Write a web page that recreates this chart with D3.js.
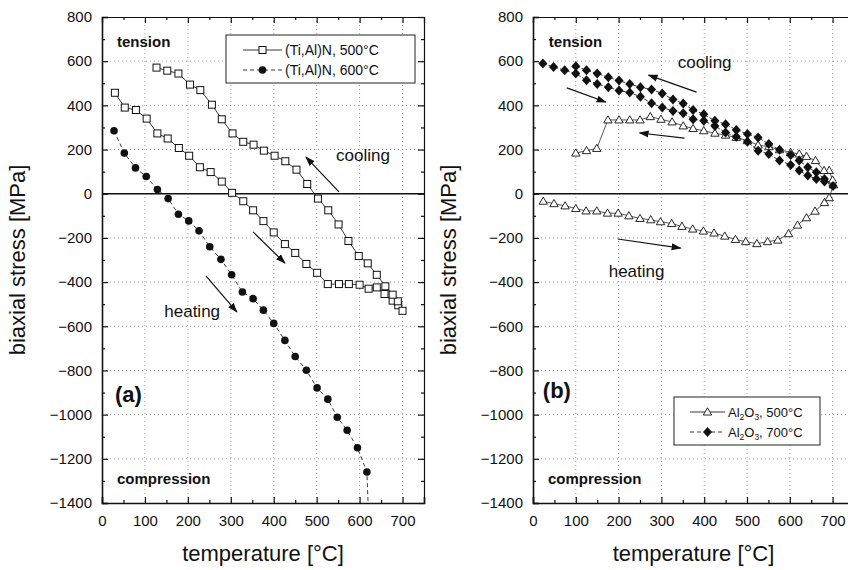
<!DOCTYPE html>
<html><head><meta charset="utf-8">
<script src="https://cdn.jsdelivr.net/npm/d3@7"></script>
<style>
body{margin:0;background:#fff;}
svg{font-family:"Liberation Sans",Arial,sans-serif;}
</style></head>
<body><svg id="c" width="848" height="570"></svg>
<script>
// ---------- data ----------
const xTicks = [0,100,200,300,400,500,600,700];
const yTicks = [800,600,400,200,0,-200,-400,-600,-800,-1000,-1200,-1400];

// (Ti,Al)N 500°C : heating then cooling
const tialn500T = [30,53,79,104,129,153,179,203,228,253,279,303,329,352,376,400,426,450,476,501,526,552,575,600,621,640,658,677,690,700,
  689,677,660,640,619,598,574,551,527,503,478,453,427,402,377,353,329,304,279,256,229,205,178,152,127];
const tialn500S = [457,390,379,340,273,250,207,172,120,98,55,4,-34,-75,-124,-175,-228,-268,-318,-358,-409,-409,-409,-412,-430,-424,-454,-484,-505,-530,
  -487,-457,-419,-367,-315,-282,-214,-139,-75,-22,44,109,147,172,195,222,235,273,337,403,469,494,544,557,571];

// (Ti,Al)N 600°C : heating (last value runs out of the frame)
const tialn600T = [28,52,78,103,129,154,178,202,226,251,277,302,327,352,376,400,426,450,476,501,526,548,571,595,617,622];
const tialn600S = [285,184,117,78,19,-22,-93,-123,-168,-240,-297,-367,-445,-475,-527,-587,-664,-737,-799,-879,-930,-1012,-1071,-1150,-1260,-1520];

// Al2O3 500°C : heating then cooling
const al500T = [24,49,75,100,124,149,174,199,224,250,275,298,324,348,373,398,423,448,473,497,523,548,572,597,618,639,659,681,692,702,
  700,692,680,660,639,622,602,576,551,526,501,475,450,425,399,374,351,325,299,274,250,226,201,175,149,125,100];
const al500S = [-34,-45,-55,-67,-78,-78,-88,-88,-100,-112,-118,-127,-135,-148,-160,-169,-178,-192,-207,-217,-226,-217,-210,-181,-142,-109,-79,-40,-18,40,
  62,105,105,150,169,180,187,199,213,220,240,255,265,274,285,295,307,325,337,349,334,334,334,334,205,195,184];

// Al2O3 700°C : heating then cooling
const al700T = [23,48,74,100,125,150,176,201,226,251,277,302,327,351,374,399,425,450,475,501,526,551,576,602,622,642,662,681,701,
  681,662,642,622,602,576,551,526,501,475,450,425,399,374,351,327,302,277,251,226,201,176,150,125,100];
const al700S = [589,574,559,544,514,497,482,467,458,439,410,390,375,364,337,330,307,277,258,235,195,180,150,130,105,82,67,55,35,
  67,97,120,150,175,199,225,255,270,289,315,330,360,379,408,427,454,472,482,497,512,527,544,559,577];

// annotations (data coordinates)
const arrowsA = [[552,8,475,166],[352,-173,426,-314],[242,-372,314,-535]];
const arrowsB = [[382,460,270,537],[79,479,170,415],[354,252,249,275],[198,-205,345,-246]];

// ---------- layout ----------
const svg = d3.select("#c");
const plotTop = 17, plotBottom = 503;
const y = d3.scaleLinear().domain([-1400,800]).range([plotBottom, plotTop]);

const defs = svg.append("defs");
defs.append("marker").attr("id","ah").attr("viewBox","0 0 10 10").attr("refX",9).attr("refY",5)
  .attr("markerWidth",10).attr("markerHeight",10).attr("markerUnits","userSpaceOnUse").attr("orient","auto")
  .append("path").attr("d","M0,1.5 L10,5 L0,8.5 Z").attr("fill","#111");

function panel(left, right, id) {
  const x = d3.scaleLinear().domain([0,750]).range([left, right]);
  const g = svg.append("g");
  defs.append("clipPath").attr("id","clip"+id).append("rect")
    .attr("x",left).attr("y",plotTop).attr("width",right-left).attr("height",plotBottom-plotTop);
  // grid
  const grid = g.append("g").attr("stroke","#888").attr("stroke-width",0.8).attr("stroke-dasharray","1,3");
  grid.selectAll(".gx").data(xTicks.filter(d=>d>0)).join("line")
    .attr("x1",d=>x(d)).attr("x2",d=>x(d)).attr("y1",plotTop).attr("y2",plotBottom);
  grid.selectAll(".gy").data(yTicks.filter(d=>d<800 && d>-1400 && d!==0)).join("line")
    .attr("y1",d=>y(d)).attr("y2",d=>y(d)).attr("x1",left).attr("x2",right);
  // zero line
  g.append("line").attr("x1",left).attr("x2",right).attr("y1",y(0)).attr("y2",y(0))
    .attr("stroke","#111").attr("stroke-width",1.3);

  const minorX = d3.range(50,750,100);
  const minorY = d3.range(-1300,800,200);
  const style = (sel, w) => { sel.select(".domain").attr("stroke","#111").attr("stroke-width",w);
    sel.selectAll(".tick line").attr("stroke","#111").attr("stroke-width",1.2);
    sel.selectAll("text").attr("font-size",15).attr("fill","#111").attr("font-family","Liberation Sans, Arial, sans-serif"); };
  const minorStyle = s=>{s.select(".domain").remove(); s.selectAll("line").attr("stroke","#111").attr("stroke-width",1.2);};

  const bx = g.append("g").attr("transform",`translate(0,${plotBottom})`)
    .call(d3.axisBottom(x).tickValues(xTicks).tickSize(-6).tickPadding(12).tickFormat(d3.format("d")));
  style(bx,1.6);
  g.append("g").attr("transform",`translate(0,${plotBottom})`)
    .call(d3.axisBottom(x).tickValues(minorX).tickSize(-3).tickFormat("")).call(minorStyle);
  const tx = g.append("g").attr("transform",`translate(0,${plotTop})`)
    .call(d3.axisTop(x).tickValues(xTicks).tickSize(-6).tickFormat(""));
  style(tx,1.2);
  g.append("g").attr("transform",`translate(0,${plotTop})`)
    .call(d3.axisTop(x).tickValues(minorX).tickSize(-3).tickFormat("")).call(minorStyle);

  const ly = g.append("g").attr("transform",`translate(${left},0)`)
    .call(d3.axisLeft(y).tickValues(yTicks).tickSize(-6).tickPadding(10).tickFormat(d3.format("d")));
  style(ly,1.6);
  g.append("g").attr("transform",`translate(${left},0)`)
    .call(d3.axisLeft(y).tickValues(minorY).tickSize(-3).tickFormat("")).call(minorStyle);
  const ry = g.append("g").attr("transform",`translate(${right},0)`)
    .call(d3.axisRight(y).tickValues(yTicks).tickSize(-6).tickFormat(""));
  style(ry,1.2);
  g.append("g").attr("transform",`translate(${right},0)`)
    .call(d3.axisRight(y).tickValues(minorY).tickSize(-3).tickFormat("")).call(minorStyle);

  // axis titles
  g.append("text").attr("x",(left+right)/2).attr("y",561).attr("text-anchor","middle")
    .attr("font-size",22).attr("fill","#111").text("temperature [°C]");
  g.append("text").attr("transform",`translate(${left-85},${(plotTop+plotBottom)/2}) rotate(-90)`)
    .attr("text-anchor","middle").attr("dominant-baseline","central").attr("font-size",22).attr("fill","#111").text("biaxial stress [MPa]");

  const data = g.append("g").attr("clip-path",`url(#clip${id})`);
  return {x, g, data};
}

function series(p, T, S, opt) {
  const pts = T.map((t,i)=>[t,S[i]]);
  const line = d3.line().x(d=>p.x(d[0])).y(d=>y(d[1]));
  p.data.append("path").datum(pts).attr("d",line).attr("fill","none")
    .attr("stroke",opt.lineColor||"#222").attr("stroke-width",0.9)
    .attr("stroke-dasharray",opt.dash||null);
  const m = p.data.append("g");
  pts.forEach(d=>drawMarker(m, p.x(d[0]), y(d[1]), opt.marker));
}

function drawMarker(g, cx, cy, type) {
  if (type==="square") g.append("rect").attr("x",cx-3.5).attr("y",cy-3.5).attr("width",7).attr("height",7)
      .attr("fill","#fff").attr("stroke","#111").attr("stroke-width",1);
  else if (type==="circle") g.append("circle").attr("cx",cx).attr("cy",cy).attr("r",3.8).attr("fill","#111");
  else if (type==="diamond") g.append("path").attr("d",`M${cx},${cy-5}L${cx+4.5},${cy}L${cx},${cy+5}L${cx-4.5},${cy}Z`).attr("fill","#111");
  else if (type==="triangle") g.append("path").attr("d",`M${cx},${cy-4.2}L${cx+4.2},${cy+3}L${cx-4.2},${cy+3}Z`)
      .attr("fill","#fff").attr("stroke","#111").attr("stroke-width",0.9);
}

function arrows(p, list) {
  p.g.selectAll(null).data(list).join("line")
    .attr("x1",d=>p.x(d[0])).attr("y1",d=>y(d[1])).attr("x2",d=>p.x(d[2])).attr("y2",d=>y(d[3]))
    .attr("stroke","#111").attr("stroke-width",1.2).attr("marker-end","url(#ah)");
}
function label(p, t, s, txt, size, bold, anchor) {
  p.g.append("text").attr("x",p.x(t)).attr("y",y(s)).attr("dominant-baseline","central")
    .attr("text-anchor",anchor||"start").attr("font-size",size).attr("font-weight",bold?"bold":"normal")
    .attr("fill","#111").text(txt);
}

function legend(p, bx, by, w, h, rows) {
  const lg = p.g.append("g");
  lg.append("rect").attr("x",bx).attr("y",by).attr("width",w).attr("height",h)
    .attr("fill","#fff").attr("stroke","#222").attr("stroke-width",1);
  rows.forEach((r,i)=>{
    const ry = by + 15 + i*20;
    lg.append("line").attr("x1",bx+r.lx0).attr("x2",bx+r.lx1).attr("y1",ry).attr("y2",ry)
      .attr("stroke","#222").attr("stroke-width",0.9).attr("stroke-dasharray",r.dash||null);
    drawMarker(lg, bx+(r.lx0+r.lx1)/2, ry, r.marker);
    const t = lg.append("text").attr("x",bx+r.lx1+3).attr("y",ry+5)
      .attr("font-size",r.size).attr("fill","#111");
    r.parts.forEach(pt=>{
      const ts = t.append("tspan").text(pt.t);
      if (pt.sub) ts.attr("font-size",r.size*0.65).attr("dy",3);
      else if (pt.after) ts.attr("dy",-3);
    });
  });
}

// ---------- panel (a) ----------
const A = panel(102, 424, "a");
series(A, tialn500T, tialn500S, {marker:"square"});
series(A, tialn600T, tialn600S, {marker:"circle", dash:"4,3"});
arrows(A, arrowsA);
label(A, 35, 691, "tension", 15, true);
label(A, 35, -1291, "compression", 15, true);
label(A, 30, -911, "(a)", 22, true);
label(A, 608, 175, "cooling", 17, false, "middle");
label(A, 210, -535, "heating", 17, false, "middle");
legend(A, 226, 35, 189, 48, [
  {lx0:17, lx1:56, marker:"square", size:14, parts:[{t:"(Ti,Al)N, 500°C"}]},
  {lx0:17, lx1:56, marker:"circle", dash:"4,3", size:14, parts:[{t:"(Ti,Al)N, 600°C"}]}
]);

// ---------- panel (b) ----------
const B = panel(533, 854, "b");
series(B, al500T, al500S, {marker:"triangle", lineColor:"#444"});
series(B, al700T, al700S, {marker:"diamond", dash:"4,2"});
arrows(B, arrowsB);
label(B, 37, 691, "tension", 15, true);
label(B, 35, -1291, "compression", 15, true);
label(B, 23, -889, "(b)", 22, true);
label(B, 401, 592, "cooling", 17, false, "middle");
label(B, 242, -350, "heating", 17, false, "middle");
legend(B, 674, 397, 146, 48, [
  {lx0:16, lx1:51, marker:"triangle", size:13, parts:[{t:"Al"},{t:"2",sub:true},{t:"O",after:true},{t:"3",sub:true},{t:", 500°C",after:true}]},
  {lx0:16, lx1:51, marker:"diamond", dash:"4,3", size:13, parts:[{t:"Al"},{t:"2",sub:true},{t:"O",after:true},{t:"3",sub:true},{t:", 700°C",after:true}]}
]);
</script></body></html>
